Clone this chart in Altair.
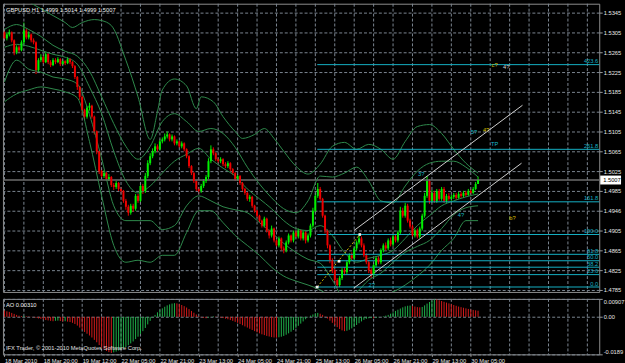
import altair as alt
import pandas as pd

# ---------------- data ----------------
first_open = 1.5305
close_ = [
 1.5293,1.5301,1.5305,1.5289,1.5265,1.5275,1.5269,1.5285,1.5309,1.5295,
 1.5301,1.5289,1.5285,1.5229,1.5249,1.5255,1.5245,1.5261,1.5245,1.5239,
 1.5249,1.5245,1.5251,1.5241,1.5247,1.5243,1.5251,1.5245,1.5237,1.5215,
 1.5195,1.5175,1.5149,1.5135,1.5153,1.5157,1.5135,1.5105,1.5065,1.5025,
 1.5015,1.5021,1.5009,1.5013,1.4997,1.4993,1.5001,1.4989,1.4985,1.4965,
 1.4953,1.4941,1.4955,1.4949,1.4975,1.4965,1.4995,1.4985,1.5015,1.5041,
 1.5055,1.5065,1.5075,1.5069,1.5085,1.5089,1.5095,1.5099,1.5089,1.5095,
 1.5081,1.5085,1.5075,1.5081,1.5069,1.5055,1.5035,1.5021,1.5005,1.4989,
 1.4985,1.4995,1.5005,1.5013,1.5045,1.5069,1.5061,1.5049,1.5045,1.5049,
 1.5039,1.5035,1.5041,1.5029,1.5021,1.5009,1.5015,1.5001,1.4989,1.4981,
 1.4969,1.4973,1.4955,1.4945,1.4935,1.4925,1.4915,1.4929,1.4905,1.4895,
 1.4909,1.4885,1.4875,1.4889,1.4869,1.4865,1.4881,1.4895,1.4885,1.4901,
 1.4893,1.4905,1.4889,1.4901,1.4885,1.4895,1.4915,1.4945,1.4975,1.4989,
 1.4969,1.4935,1.4905,1.4875,1.4845,1.4825,1.4805,1.4795,1.4809,1.4825,
 1.4821,1.4841,1.4855,1.4849,1.4869,1.4881,1.4889,1.4875,1.4855,1.4841,
 1.4825,1.4817,1.4835,1.4849,1.4841,1.4865,1.4875,1.4869,1.4885,1.4877,
 1.4893,1.4885,1.4901,1.4945,1.4935,1.4955,1.4925,1.4913,1.4895,1.4905,
 1.4893,1.4909,1.4935,1.4975,1.5005,1.4965,1.4981,1.4965,1.4985,1.4969,
 1.4989,1.4965,1.4975,1.4969,1.4973,1.4977,1.4971,1.4979,1.4975,1.4981,
 1.4977,1.4985,1.4981,1.4989,1.4999,1.5007]
high_ = [
 1.5309,1.5305,1.5311,1.5307,1.5291,1.5279,1.5279,1.5289,1.5325,1.5313,
 1.5307,1.5303,1.5293,1.5287,1.5253,1.5261,1.5259,1.5265,1.5263,1.5249,
 1.5253,1.5253,1.5255,1.5253,1.5251,1.5249,1.5255,1.5253,1.5247,1.5239,
 1.5217,1.5197,1.5177,1.5151,1.5157,1.5163,1.5159,1.5137,1.5107,1.5067,
 1.5029,1.5027,1.5023,1.5019,1.5015,1.5001,1.5005,1.5003,1.4993,1.4987,
 1.4969,1.4957,1.4959,1.4959,1.4979,1.4979,1.5001,1.4999,1.5021,1.5047,
 1.5061,1.5071,1.5081,1.5079,1.5089,1.5093,1.5101,1.5105,1.5101,1.5099,
 1.5097,1.5089,1.5087,1.5085,1.5083,1.5071,1.5057,1.5037,1.5023,1.5007,
 1.4993,1.4999,1.5009,1.5017,1.5051,1.5077,1.5073,1.5063,1.5053,1.5053,
 1.5051,1.5043,1.5045,1.5043,1.5031,1.5023,1.5019,1.5017,1.5003,1.4991,
 1.4983,1.4977,1.4975,1.4957,1.4947,1.4937,1.4927,1.4933,1.4931,1.4907,
 1.4915,1.4911,1.4887,1.4893,1.4891,1.4873,1.4885,1.4899,1.4897,1.4905,
 1.4905,1.4909,1.4907,1.4905,1.4903,1.4899,1.4919,1.4951,1.4981,1.5001,
 1.4993,1.4971,1.4937,1.4907,1.4877,1.4849,1.4827,1.4809,1.4813,1.4829,
 1.4831,1.4845,1.4859,1.4861,1.4873,1.4885,1.4897,1.4893,1.4879,1.4859,
 1.4845,1.4829,1.4839,1.4853,1.4853,1.4869,1.4879,1.4881,1.4889,1.4891,
 1.4897,1.4897,1.4905,1.4953,1.4951,1.4961,1.4959,1.4929,1.4917,1.4909,
 1.4909,1.4913,1.4939,1.4981,1.5015,1.5009,1.4987,1.4985,1.4989,1.4989,
 1.4993,1.4993,1.4979,1.4981,1.4977,1.4981,1.4981,1.4983,1.4983,1.4985,
 1.4985,1.4989,1.4989,1.4993,1.5003,1.5014]
low_ = [
 1.5289,1.5289,1.5297,1.5285,1.5259,1.5261,1.5265,1.5267,1.5281,1.5291,
 1.5291,1.5285,1.5281,1.5221,1.5225,1.5245,1.5241,1.5243,1.5241,1.5235,
 1.5237,1.5241,1.5243,1.5237,1.5239,1.5239,1.5241,1.5241,1.5233,1.5211,
 1.5189,1.5169,1.5143,1.5129,1.5131,1.5147,1.5131,1.5099,1.5059,1.5019,
 1.5009,1.5011,1.5005,1.5005,1.4993,1.4987,1.4989,1.4985,1.4979,1.4961,
 1.4947,1.4935,1.4937,1.4943,1.4945,1.4961,1.4961,1.4979,1.4981,1.5011,
 1.5037,1.5051,1.5061,1.5065,1.5067,1.5081,1.5085,1.5091,1.5085,1.5085,
 1.5077,1.5077,1.5071,1.5071,1.5065,1.5051,1.5031,1.5017,1.5001,1.4985,
 1.4979,1.4981,1.4991,1.5001,1.5009,1.5041,1.5057,1.5045,1.5041,1.5041,
 1.5035,1.5031,1.5031,1.5025,1.5017,1.5005,1.5005,1.4997,1.4985,1.4977,
 1.4965,1.4963,1.4951,1.4941,1.4931,1.4921,1.4911,1.4911,1.4901,1.4889,
 1.4891,1.4881,1.4869,1.4871,1.4865,1.4859,1.4861,1.4877,1.4881,1.4881,
 1.4889,1.4889,1.4885,1.4885,1.4879,1.4881,1.4891,1.4911,1.4941,1.4971,
 1.4965,1.4931,1.4899,1.4869,1.4839,1.4819,1.4799,1.4789,1.4791,1.4805,
 1.4815,1.4817,1.4837,1.4845,1.4845,1.4865,1.4877,1.4871,1.4851,1.4837,
 1.4819,1.4809,1.4813,1.4831,1.4837,1.4837,1.4861,1.4865,1.4865,1.4873,
 1.4873,1.4881,1.4881,1.4897,1.4931,1.4931,1.4921,1.4909,1.4889,1.4891,
 1.4889,1.4889,1.4905,1.4931,1.4971,1.4959,1.4961,1.4961,1.4961,1.4965,
 1.4965,1.4961,1.4961,1.4965,1.4965,1.4969,1.4967,1.4969,1.4971,1.4971,
 1.4973,1.4975,1.4977,1.4979,1.4987,1.4999]

# Awesome Oscillator, in thousandths
ao_milli = [
 3.2,2.8,2.5,2.0,1.5,
 1.0,0.6,0.4,0.5,0.3,0.2,0.1,-0.2,-0.5,-0.8,-1.0,
 -1.3,-1.6,-1.8,-2.0,-2.2,-2.0,-1.9,-2.1,-2.3,-2.2,-2.4,-2.6,-3.0,-3.6,-4.4,-5.4,
 -6.5,-7.6,-8.5,-9.4,-10.4,-11.6,-12.8,-14.2,-15.4,
 -16.3,-17.2,-17.8,-18.2,-17.9,-17.5,
 -17.0,-16.4,-15.9,-15.2,-14.3,-13.4,-12.4,-11.2,-10.0,-8.6,-7.2,-5.6,-3.8,-2.0,
 -0.4,1.0,2.3,3.4,4.3,5.1,5.8,6.3,6.7,6.9,6.8,6.5,6.0,5.4,4.7,3.9,3.0,2.1,1.2,0.4,
 -0.2,-0.5,-0.7,-0.4,0.0,0.3,0.2,-0.1,-0.4,-0.6,-0.9,-1.2,-1.6,-2.0,-2.5,-3.0,-3.6,
 -4.2,-4.8,-5.4,-6.0,-6.6,-7.2,-7.8,-8.3,-8.8,-9.2,-9.6,-9.9,-10.2,-10.4,-10.5,-10.3,-10.0,
 -9.6,-9.0,-8.3,-7.5,-6.6,-5.6,-4.5,-3.4,-2.3,-1.2,-0.2,0.6,
 1.2,1.8,2.0,1.6,
 1.0,0.2,-0.8,-1.9,-3.0,-4.1,-5.2,-6.1,-6.8,-7.2,
 -7.0,-6.5,-5.8,-5.0,-4.1,-3.2,-2.3,-1.5,
 -1.0,-0.7,-0.6,-0.7,-0.5,-0.2,0.0,0.3,0.6,1.0,
 1.6,2.3,3.0,3.6,4.2,4.8,5.3,5.6,
 5.7,5.5,5.2,4.9,4.8,5.0,
 5.8,6.7,7.5,8.2,8.8,
 8.7,8.4,8.0,7.6,7.2,6.8,6.4,6.0,5.6,5.2,4.9,4.6,4.3,4.0,3.7,3.5,3.3,3.1]

# envelope / band curves (bar index, price)
band_step_idx = list(range(0, 196, 5))
band_a = [1.5311,1.5321,1.5311,1.5297,1.5279,1.5267,1.5257,1.5227,1.5175,1.5121,
          1.5075,1.5049,1.5075,1.5125,1.5141,1.5125,1.5105,1.5111,1.5101,1.5073,
          1.5033,1.4999,1.4971,1.4949,1.4941,1.4965,1.5015,1.5013,1.5021,1.5033,
          1.5005,1.4965,1.4961,1.4995,1.5025,1.5041,1.5045,1.5045,1.5033,1.5013]
band_m = [1.5275,1.5281,1.5277,1.5269,1.5261,1.5255,1.5241,1.5195,1.5141,1.5065,
          1.5005,1.4981,1.4995,1.5021,1.5045,1.5059,1.5071,1.5049,1.5031,1.5015,
          1.4989,1.4969,1.4949,1.4925,1.4909,1.4905,1.4915,1.4895,1.4861,1.4841,
          1.4849,1.4855,1.4865,1.4889,1.4915,1.4935,1.4955,1.4965,1.4973,1.4979]
band_b = [1.5205,1.5249,1.5231,1.5225,1.5215,1.5211,1.5201,1.5139,1.5051,1.4955,
          1.4925,1.4925,1.4925,1.4907,1.4915,1.4955,1.4975,1.4965,1.4953,1.4947,
          1.4941,1.4921,1.4901,1.4879,1.4861,1.4847,1.4839,1.4805,1.4769,1.4781,
          1.4805,1.4819,1.4841,1.4861,1.4873,1.4885,1.4909,1.4937,1.4951,1.4955]
band_d = [1.5165,1.5181,1.5189,1.5195,1.5191,1.5185,1.5173,1.5085,1.4975,1.4875,
          1.4841,1.4845,1.4841,1.4855,1.4855,1.4901,1.4945,1.4945,1.4921,1.4895,
          1.4875,1.4855,1.4831,1.4813,1.4803,1.4795,1.4785,1.4769,1.4755,1.4759,
          1.4769,1.4773,1.4781,1.4795,1.4813,1.4835,1.4865,1.4889,1.4925,1.4925]
band_c_idx = [5,10,15,20,25,28,32,37,40,44,50,55,60,63,65,70,75,79,81,86,
              90,95,98,103,107,111,115,120,125,130,135,140,145,150,155,160,165,170,175,180,
              185,190,195]
band_c = [1.5385,1.5367,1.5353,1.5339,1.5325,1.5315,1.5325,1.5331,1.5329,1.5319,
          1.5249,1.5175,1.5089,1.5145,1.5189,1.5211,1.5197,1.5151,1.5175,1.5165,
          1.5135,1.5105,1.5091,1.5099,1.5111,1.5091,1.5065,1.5035,1.5019,1.5039,
          1.5075,1.5083,1.5069,1.5079,1.5069,1.5049,1.5085,1.5115,1.5119,1.5101,
          1.5069,1.5041,1.5021]

# Fibonacci levels
fib_labels = ["0.0", "23.6", "38.2", "50.0", "61.8", "100.0", "161.8", "261.8", "423.6"]
fib_prices = [1.4791, 1.4816, 1.4831, 1.4844, 1.4857, 1.4897, 1.4963, 1.5069, 1.5240]
fib_start = 128.8
fib_anchor_idx = [128.8, 137.8, 146.3]
fib_anchor_price = [1.4791, 1.4843, 1.4897]

# channel lines: (x1, y1, x2, y2)
chan_x1 = [143.9, 143.9]
chan_y1 = [1.4905, 1.4789]
chan_x2 = [213.3, 212.9]
chan_y2 = [1.5158, 1.5041]

# wave labels
wave_text = ["3?", "4?", "5?", "4?", "b?", "c?", "4?", "TP", "2?"]
wave_idx = [171.6, 188.0, 193.3, 198.3, 209.2, 201.8, 206.6, 201.8, 151.2]
wave_price = [1.5019, 1.4937, 1.5103, 1.5107, 1.4931, 1.5239, 1.5235, 1.5079, 1.4795]
wave_color = ["#19b7c9", "#19b7c9", "#19b7c9", "#d8c000", "#d8c000", "#d8c000", "#d8d8d8", "#19b7c9", "#19b7c9"]

price_ticks = [1.5345, 1.5305, 1.5265, 1.5225, 1.5185, 1.5145, 1.5105, 1.5065,
               1.5025, 1.4985, 1.4946, 1.4905, 1.4865, 1.4825, 1.4785]
time_labels = ["18 Mar 2010", "18 Mar 20:00", "19 Mar 12:00", "22 Mar 05:00", "22 Mar 21:00",
               "23 Mar 13:00", "24 Mar 05:00", "24 Mar 21:00", "25 Mar 13:00", "26 Mar 05:00",
               "26 Mar 21:00", "29 Mar 13:00", "30 Mar 05:00"]
time_label_idx = [16 * k for k in range(len(time_labels))]
grid_idx = list(range(0, 245, 8))
ao_ticks = [9.07, 0.0, -18.9]

# ---------------- layout / style ----------------
FONT = "Liberation Sans"
FS = 5.8
GRID = "#7c8792"
BAND = "#2f8a4c"
FIB = "#14b0c4"
W, H, AOH = 602, 291, 56
XDOM = [-0.61, 244.9]
YDOM = [1.4781, 1.5363]
AODOM = [-18.9, 9.07]

xs = alt.Scale(domain=XDOM, nice=False, zero=False)
ys = alt.Scale(domain=YDOM, nice=False, zero=False)
aos = alt.Scale(domain=AODOM, nice=False, zero=False)
dir_color = alt.Color("dir:N", scale=alt.Scale(domain=["up", "down"], range=["#00f000", "#ee0000"]), legend=None)

n = min(len(close_), len(high_), len(low_))
opens = [first_open] + close_[:-1]
candles = pd.DataFrame({
    "idx": list(range(n)), "open": opens[:n], "high": high_[:n],
    "low": low_[:n], "close": close_[:n]})
candles["dir"] = ["up" if c >= o else "down" for o, c in zip(candles["open"], candles["close"])]

bands = pd.concat([
    pd.DataFrame({"band": "a", "x": band_step_idx[:len(band_a)], "p": band_a}),
    pd.DataFrame({"band": "m", "x": band_step_idx[:len(band_m)], "p": band_m}),
    pd.DataFrame({"band": "b", "x": band_step_idx[:len(band_b)], "p": band_b}),
    pd.DataFrame({"band": "d", "x": band_step_idx[:len(band_d)], "p": band_d}),
    pd.DataFrame({"band": "c", "x": band_c_idx, "p": band_c}),
])
fib = pd.DataFrame({"lab": fib_labels, "p": fib_prices, "x0": fib_start, "x1": XDOM[1]})
chan = pd.DataFrame({"x1": chan_x1, "y1": chan_y1, "x2": chan_x2, "y2": chan_y2})
fibline = pd.DataFrame({"x1": [fib_anchor_idx[0]], "y1": [fib_anchor_price[0]],
                        "x2": [fib_anchor_idx[-1]], "y2": [fib_anchor_price[-1]]})
anchors = pd.DataFrame({"x": fib_anchor_idx, "p": fib_anchor_price})
waves = pd.DataFrame({"x": wave_idx, "p": wave_price, "t": wave_text, "c": wave_color})
grid_df = pd.DataFrame({"g": grid_idx})
last = pd.DataFrame({"p": [close_[n - 1]], "lo": [close_[n - 1] - 0.0009], "hi": [close_[n - 1] + 0.0009],
                     "t": [f"{close_[n - 1]:.4f}"]})
header = pd.DataFrame({"t": [f"GBPUSD,H1  {opens[n-1]:.4f} {high_[n-1]:.4f} {low_[n-1]:.4f} {close_[n-1]:.4f}"]})

# one shared axis object for every layer that uses the main y scale
YA = alt.Axis(orient="right", values=price_ticks, format=".4f", title=None, grid=True,
              gridColor=GRID, gridDash=[3, 2], gridWidth=1, labelColor="#e6e6e6",
              labelFont=FONT, labelFontSize=FS, tickColor="#9a9a9a", tickSize=3,
              domain=False, labelPadding=1)


def PY(field):
    return alt.Y(field, scale=ys, axis=YA)


def PX(field):
    return alt.X(field, scale=xs, axis=None)


vgrid = alt.Chart(grid_df).mark_rule(color=GRID, strokeDash=[3, 2], strokeWidth=1).encode(x=PX("g:Q"))

wick = alt.Chart(candles).mark_rule(strokeWidth=1).encode(
    x=PX("idx:Q"), y=PY("low:Q"), y2="high:Q", color=dir_color)
body = alt.Chart(candles).mark_rule(strokeWidth=2).encode(
    x=PX("idx:Q"), y=PY("open:Q"), y2="close:Q", color=dir_color)

bidline = alt.Chart(last).mark_rule(color="#6c6c6c", strokeWidth=1.5).encode(y=PY("p:Q"))

band_lines = alt.Chart(bands).mark_line(color=BAND, strokeWidth=1, clip=True, interpolate="monotone").encode(
    x=PX("x:Q"), y=PY("p:Q"), detail="band:N", order="x:Q")

fib_rules = alt.Chart(fib).mark_rule(color=FIB, strokeWidth=1).encode(
    x=PX("x0:Q"), x2="x1:Q", y=PY("p:Q"))
fib_text = alt.Chart(fib).mark_text(color=FIB, font=FONT, fontSize=FS, align="right",
                                    baseline="bottom", dx=-1, dy=-0.5).encode(
    x=PX("x1:Q"), y=PY("p:Q"), text="lab:N")

chan_rules = alt.Chart(chan).mark_rule(color="#cfcfcf", strokeWidth=1).encode(
    x=PX("x1:Q"), x2="x2:Q", y=PY("y1:Q"), y2="y2:Q")
fib_trend = alt.Chart(fibline).mark_rule(color="#d8c000", strokeWidth=1, strokeDash=[2, 2]).encode(
    x=PX("x1:Q"), x2="x2:Q", y=PY("y1:Q"), y2="y2:Q")
anchor_pts = alt.Chart(anchors).mark_square(color="#f0f0f0", size=7, opacity=1).encode(
    x=PX("x:Q"), y=PY("p:Q"))

wave_txt = alt.Chart(waves).mark_text(font=FONT, fontSize=FS, align="center", baseline="middle").encode(
    x=PX("x:Q"), y=PY("p:Q"), text="t:N", color=alt.Color("c:N", scale=None))

head_txt = alt.Chart(header).mark_text(font=FONT, fontSize=FS, color="#f0f0f0", align="left",
                                       baseline="middle").encode(
    x=alt.value(3), y=alt.value(6), text="t:N")

price_box = alt.Chart(last).mark_rect(color="#ffffff").encode(
    x=alt.value(W + 1), x2=alt.value(W + 22), y=PY("lo:Q"), y2="hi:Q")
price_box_txt = alt.Chart(last).mark_text(font=FONT, fontSize=FS, color="#000000", align="left",
                                          baseline="middle").encode(
    x=alt.value(W + 4), y=PY("p:Q"), text="t:N")

main = alt.layer(
    wick, vgrid, bidline, band_lines, fib_rules, fib_text, chan_rules, fib_trend,
    body, anchor_pts, wave_txt, head_txt, price_box, price_box_txt
).properties(width=W, height=H)

# ---------------- AO panel ----------------
na = min(len(ao_milli), n)
ao_dir = ["down"] + ["up" if ao_milli[i] > ao_milli[i - 1] else "down" for i in range(1, na)]
ao_df = pd.DataFrame({"idx": list(range(na)), "ao": ao_milli[:na], "dir": ao_dir})

label_js = "[" + ",".join("'" + t + "'" for t in time_labels) + "][round(datum.value/16)]"
AXA = alt.Axis(values=time_label_idx, labelExpr=label_js, labelAlign="left", labelBaseline="top",
               labelColor="#e6e6e6", labelFont=FONT, labelFontSize=FS, tickColor="#9a9a9a",
               tickSize=2, domain=False, grid=False, title=None, labelPadding=1,
               labelOverlap=False, labelFlush=False, labelBound=False)
AYA = alt.Axis(orient="right", values=ao_ticks, title=None,
               labelExpr="datum.value > 1 ? '0.00907' : (datum.value < -1 ? '-0.0189' : '0.00')",
               labelFlush=True, grid=True, gridColor=GRID, gridDash=[3, 2],
               labelColor="#e6e6e6", labelFont=FONT, labelFontSize=FS, tickColor="#9a9a9a",
               tickSize=3, domain=False, labelPadding=1)

ao_bars = alt.Chart(ao_df).mark_rule(strokeWidth=1).encode(
    x=alt.X("idx:Q", scale=xs, axis=AXA),
    y=alt.Y("ao:Q", scale=aos, axis=AYA), y2=alt.datum(0),
    color=alt.Color("dir:N", scale=alt.Scale(domain=["up", "down"], range=["#1fb04a", "#d41a1a"]), legend=None))
ao_vgrid = alt.Chart(grid_df).mark_rule(color=GRID, strokeDash=[3, 2], strokeWidth=1).encode(
    x=alt.X("g:Q", scale=xs, axis=AXA))
ao_info = pd.DataFrame({"t": [f"AO {ao_milli[na-1] / 1000:.5f}"]})
ao_head = alt.Chart(ao_info).mark_text(font=FONT, fontSize=FS, color="#f0f0f0", align="left",
                                       baseline="middle").encode(
    x=alt.value(3), y=alt.value(6), text="t:N")
copy_df = pd.DataFrame({"t": ["IFX Trader, \u00a9 2001-2010 MetaQuotes Software Corp."]})
ao_copy = alt.Chart(copy_df).mark_text(font=FONT, fontSize=FS, color="#e0e0e0", align="left",
                                       baseline="middle").encode(
    x=alt.value(3), y=alt.value(AOH - 6), text="t:N")

aop = alt.layer(ao_vgrid, ao_bars, ao_head, ao_copy).properties(width=W, height=AOH)

chart = alt.vconcat(main, aop, spacing=4).resolve_scale(
    x="independent", y="independent", color="independent"
).properties(
    background="#000000",
    padding={"left": 1, "top": 1, "right": 0, "bottom": 0},
).configure_view(stroke="#8e8e8e", strokeWidth=1)

chart.save("out.html", embed_options={"renderer": "svg", "actions": False})
